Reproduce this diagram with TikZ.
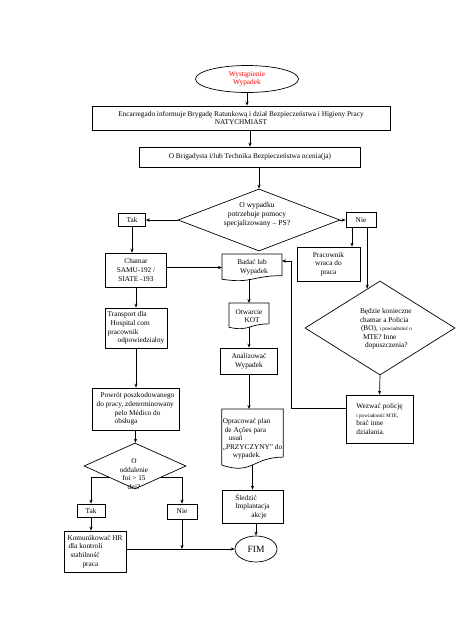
\documentclass[tikz,border=0pt]{standalone}
\usepackage{fontspec}
\setmainfont{Liberation Serif}
\usetikzlibrary{shapes.geometric,arrows.meta,calc}
\newcommand{\docshape}[1]{%
 \draw[line width=0.7pt] (#1.north west) -- (#1.north east) -- ($(#1.north east)!0.802!(#1.south east)$) .. controls ($(#1.north)!0.802!(#1.south)$) and ($(#1.north)!1.107!(#1.south)$) .. ($(#1.north west)!0.934!(#1.south west)$) -- cycle;}
\newcommand{\smtxt}{\fontsize{5.2}{8.6}\selectfont}
\begin{document}
\begin{tikzpicture}[x=1pt,y=-1pt,
  every node/.style={font=\fontsize{7.3}{8.6}\selectfont},
  arr/.style={line width=0.7pt,-{Stealth[length=4pt,width=3.2pt]}},
  box/.style={draw,line width=0.7pt,inner sep=1pt,align=center},
  doc/.style={inner sep=1pt,outer sep=0pt,align=center},
  dia/.style={draw,diamond,line width=0.7pt,inner sep=0pt},
  oval/.style={draw,ellipse,line width=0.7pt,inner sep=0pt}]
\useasboundingbox (0,0) rectangle (474,632);
% nodes
\node[oval,minimum width=103pt,minimum height=27pt,text=red,align=center] (e1) at (247,79) {Wystąpienie\\Wypadek};
\node[box,minimum width=298pt,minimum height=24pt] (b1) at (241,118) {Encarregado informuje Brygadę Ratunkową i dział Bezpieczeństwa i Higieny Pracy\\NATYCHMIAST};
\node[box,minimum width=221pt,minimum height=20pt] (b2) at (250,157) {O Brigadysta i/lub Technika Bezpieczeństwa ocenia(ja)};
\node[dia,minimum width=162pt,minimum height=62pt] (d1) at (259,220) {};
\node[align=center,font=\fontsize{7.6}{9}\selectfont] (d1t) at (257,215) {O wypadku\\potrzebuje pomocy\\specjalizowany – PS?};
\node[box,minimum width=27pt,minimum height=13pt] (tak1) at (132,220) {Tak};
\node[box,minimum width=30pt,minimum height=15pt] (nie1) at (361,220) {Nie};
\node[box,minimum width=61pt,minimum height=34pt] (chamar) at (136,270) {Chamar\\SAMU-192 /\\SIATE -193};
\node[doc,minimum width=60pt,minimum height=27pt] (badac) at (252,267.5) {Badać lub\\\hspace*{4pt}Wypadek};
\docshape{badac}
\node[box,minimum width=63pt,minimum height=34pt] (prac) at (328.5,264) {Pracownik\\wraca do\\praca};
\node[dia,minimum width=150pt,minimum height=94pt] (d2) at (380,328) {};
\node[align=left] (d2t) at (386,329) {Będzie konieczne\\chamar a Policia\\\hspace*{1pt}(BO), {\smtxt i powiadomić o}\\\hspace*{3pt}MTE? Inne\\\hspace*{5pt}dopuszczenia?};
\node[box,minimum width=67pt,minimum height=48pt,align=left] (wez) at (379.5,419) {Wezwać policję\\{\smtxt i powiadomić MTE,}\\brać inne\\działania.};
\node[doc,minimum width=40pt,minimum height=26pt] (otw) at (249,316) {Otwarcie\\\hspace*{6pt}KOT};
\docshape{otw}
\node[box,minimum width=57pt,minimum height=26pt] (anal) at (249,361) {Analizować\\Wypadek};
\node[doc,minimum width=61pt,minimum height=60pt,align=left] (opr) at (252.5,439) {Opracować plan\\\hspace*{2pt}de Ações para\\\hspace*{6pt}usuń\\„PRZYCZYNY” do\\\hspace*{10pt}wypadek.};
\docshape{opr}
\node[box,minimum width=61pt,minimum height=33pt,align=left] (sled) at (252.5,506.5) {Śledzić\\Implantacja\\\hspace*{16pt}akcje};
\node[oval,minimum width=42pt,minimum height=26pt,font=\fontsize{9.5}{10}\selectfont] (fim) at (256,549) {FIM};
\node[box,minimum width=62pt,minimum height=40pt,align=left] (trans) at (136,328) {Transport dla\\\hspace*{3pt}Hospital com\\pracownik\\\hspace*{10pt}odpowiedzialny};
\node[box,minimum width=87pt,minimum height=42pt,align=left] (powr) at (135.5,409) {\hspace*{4pt}Powrót poszkodowanego\\do pracy, zdeterminowany\\\hspace*{18pt}pelo Médico do\\\hspace*{18pt}obsługa};
\node[dia,minimum width=102pt,minimum height=46pt] (d3) at (135,466) {};
\node[align=center] (d3t) at (134,474) {O\\oddalenie\\foi > 15\\dni?};
\node[box,minimum width=28pt,minimum height=13pt] (tak2) at (91,510.5) {Tak};
\node[box,minimum width=30pt,minimum height=15pt] (nie2) at (182,511.5) {Nie};
\node[box,minimum width=62pt,minimum height=41pt,align=left] (kom) at (95,551.5) {Komunikować HR\\\hspace*{1pt}dla kontroli\\\hspace*{3pt}stabilność\\\hspace*{15pt}praca};
% connectors
\draw[arr] (e1.south) -- (e1.south |- b1.north);
\draw[arr] (b2.north |- b1.south) -- (b2.north);
\draw[arr] (d1.north |- b2.south) -- (d1.north);
\draw[arr] (d1.west) -- (d1.west -| tak1.east);
\draw[arr] (d1.east) -- (d1.east -| nie1.west);
\draw[arr] (tak1.south) -- (tak1.south |- chamar.north);
\draw[arr] (chamar.east |- badac.west) -- (badac.west);
\draw[arr] ([xshift=-9pt]nie1.south) -- ([xshift=-9pt]nie1.south |- prac.north);
\coordinate (n2) at ($(d2.north)!0.17!(d2.west)$);
\draw[arr] (nie1.south -| n2) -- (n2);
\draw[arr] (d2.south) -- (wez.north);
\coordinate (w1) at (291,408);
\coordinate (w2) at (291,261);
\draw[arr] (w1 -| wez.west) -- (w1) -- (w2) -- (w2 -| badac.east);
\coordinate (bb) at ($(badac.north)!0.933!(badac.south)$);
\draw[arr] (otw.north |- bb) -- (otw.north);
\coordinate (ob) at ($(otw.north)!0.933!(otw.south)$);
\draw[arr] (ob) -- (ob |- anal.north);
\draw[arr] (anal.south) -- (anal.south |- opr.north);
\coordinate (pb) at ($(opr.north)!0.933!(opr.south)$);
\draw[arr] (sled.north |- pb) -- (sled.north);
\draw[arr] (fim.north |- sled.south) -- (fim.north);
\draw[arr] (chamar.south) -- (chamar.south |- trans.north);
\draw[arr] (trans.south) -- (trans.south |- powr.north);
\draw[arr] (powr.south) -- (powr.south |- d3.north);
\draw[arr] (d3.south west) -| (tak2.north);
\draw[arr] (d3.south east) -| (nie2.north);
\draw[arr] (tak2.south) -- (tak2.south |- kom.north);
\draw[arr] (kom.east |- fim.west) -- (fim.west);
\draw[arr] (nie2.south) -- (nie2.south |- fim.west);
\end{tikzpicture}
\end{document}
